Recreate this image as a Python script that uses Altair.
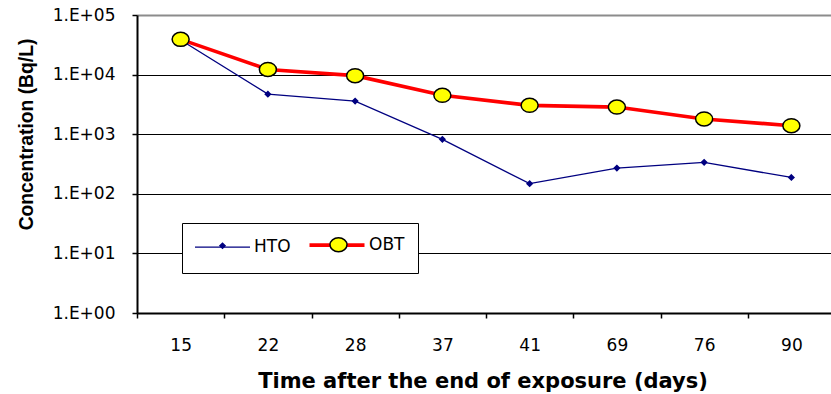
import altair as alt
import pandas as pd

# Sampling days after the end of exposure (categorical axis)
days = ["15", "22", "28", "37", "41", "69", "76", "90"]
# Measured concentrations (Bq/L)
hto = [38000, 4700, 3600, 820, 148, 270, 337, 188]
obt = [39000, 12200, 9600, 4500, 3050, 2850, 1800, 1390]
series_names = ["HTO", "OBT"]
y_ticks = [1, 10, 100, 1000, 10000, 100000]

line_colors = ["#000080", "#ff0000"]
line_widths = [1.3, 3.6]
marker_fills = ["#000080", "#ffff00"]
marker_strokes = ["#000080", "#000000"]

df = pd.DataFrame(
    [{"day": d, "conc": v, "series": s, "marker": s}
     for s, vals in zip(series_names, [hto, obt])
     for d, v in zip(days, vals)]
)

FONT = "DejaVu Sans"
TITLE_FONT_Y = "Liberation Sans"
# legend line sample: symbolSize 182.25 gives 6.75 px per unit -> 55 px long,
# starting at the entry origin; the first move only deepens the entry's bounds
LINE_SAMPLE = "M-1.259,1.11M-1.259,0H6.889"
# marker shapes at size 225 (7.5 px per unit)
DIAMOND = "M0,-0.34L0.34,0L0,0.34L-0.34,0Z"
ELLIPSE = "M-1.133,0A1.133,0.933 0 1,1 1.133,0A1.133,0.933 0 1,1 -1.133,0Z"

LEG_X, LEG_Y, LEG_PAD = 45, 208, 13
LABEL_SIZE = 17
LINE_COL_PAD = 11

x_enc = alt.X(
    "day:N",
    sort=days,
    scale=alt.Scale(type="band", domain=days, range=[0, 698],
                    paddingInner=0, paddingOuter=0),
    axis=alt.Axis(
        title="Time after the end of exposure (days)",
        labelAngle=0, tickBand="extent", tickSize=5, tickWidth=1.5,
        tickColor="black", domainColor="black", domainWidth=2,
        labelFont=FONT, labelFontSize=17, labelColor="black", labelPadding=19,
        grid=False,
        titleFont=FONT, titleFontSize=21, titleFontWeight="bold",
        titleColor="black", titleX=345.5, titleY=74,
        titleAlign="center", titleBaseline="alphabetic",
    ),
)

y_enc = alt.Y(
    "conc:Q",
    scale=alt.Scale(type="log", domain=[1, 100000], nice=False),
    axis=alt.Axis(
        values=y_ticks,
        labelExpr="'1.E+0' + round(log(datum.value) / LN10)",
        title="Concentration (Bq/L)",
        tickSize=5, tickWidth=1.5, tickColor="black",
        domainColor="black", domainWidth=2,
        labelFont=FONT, labelFontSize=17, labelColor="black", labelPadding=17,
        grid=True,
        gridColor={"condition": {"test": "datum.value >= 100000", "value": "#8c8c8c"},
                   "value": "black"},
        gridWidth={"condition": {"test": "datum.value >= 100000", "value": 2},
                   "value": 1.2},
        titleFont=TITLE_FONT_Y, titleFontSize=19.3, titleFontWeight="bold",
        titleColor="black", titleAngle=270, titleX=-105, titleY=119,
        titleAlign="center", titleBaseline="alphabetic",
    ),
)

# line legend (boxed, with labels)
lines = alt.Chart(df).mark_line().encode(
    x=x_enc,
    y=y_enc,
    color=alt.Color(
        "series:N",
        scale=alt.Scale(domain=series_names, range=line_colors),
        legend=alt.Legend(
            orient="none", legendX=LEG_X, legendY=LEG_Y, direction="horizontal",
            title=None, symbolType=LINE_SAMPLE, symbolSize=182.25,
            labelFont=FONT, labelFontSize=LABEL_SIZE, labelColor="black",
            labelOffset=42, columnPadding=LINE_COL_PAD, padding=LEG_PAD,
            strokeColor="black", fillColor="white",
        ),
    ),
    strokeWidth=alt.StrokeWidth(
        "series:N", scale=alt.Scale(domain=series_names, range=line_widths)
    ),
)

# marker legend laid over the line samples (no label text)
points = alt.Chart(df).mark_point(opacity=1, fillOpacity=1, strokeWidth=1.5, size=225).encode(
    x=x_enc,
    y=y_enc,
    fill=alt.Fill(
        "marker:N",
        scale=alt.Scale(range=marker_fills),
        legend=alt.Legend(
            orient="none", legendX=LEG_X + 19, legendY=LEG_Y, direction="horizontal",
            title=None, symbolSize=225, symbolStrokeWidth=1.5,
            labelFont=FONT, labelFontSize=LABEL_SIZE, labelExpr="''",
            labelOffset=0, columnPadding=LINE_COL_PAD + 85, padding=LEG_PAD,
        ),
    ),
    stroke=alt.Stroke("marker:N", scale=alt.Scale(range=marker_strokes)),
    shape=alt.Shape("marker:N", scale=alt.Scale(range=[DIAMOND, ELLIPSE])),
)

chart = (
    alt.layer(lines, points)
    .properties(
        width=694,
        height=298,
        autosize=alt.AutoSizeParams(type="none"),
        padding={"left": 137, "top": 15, "right": 0, "bottom": 81},
        background="white",
    )
    .configure_view(stroke=None)
)

chart.save("out.html", embed_options={"renderer": "svg", "actions": False})
